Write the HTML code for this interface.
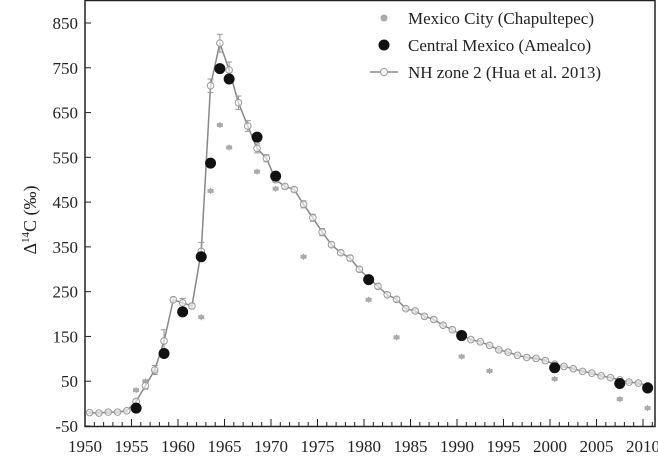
<!DOCTYPE html>
<html><head><meta charset="utf-8"><style>
body{margin:0;background:#fff}
svg{display:block;font-family:"Liberation Serif",serif}
</style></head><body>
<svg id="chart" width="658" height="457">
<g id="axes"></g><g id="marks"></g>
<g>
<circle cx="384" cy="18" r="3.5" fill="#aaa"/>
<text x="408" y="24" font-size="17" fill="#222">Mexico City (Chapultepec)</text>
<circle cx="384" cy="45" r="5.5" fill="#111"/>
<text x="408" y="51" font-size="17" fill="#222">Central Mexico (Amealco)</text>
<line x1="370" y1="72" x2="398" y2="72" stroke="#888" stroke-width="1.5"/>
<circle cx="384" cy="72" r="3.5" fill="#fff" stroke="#999"/>
<text x="408" y="78" font-size="17" fill="#222">NH zone 2 (Hua et al. 2013)</text>
</g>
<text transform="translate(36,220) rotate(-90)" text-anchor="middle" font-size="18" fill="#222">Δ<tspan font-size="11" dy="-7">14</tspan><tspan dy="7">C (‰)</tspan></text>
</svg>
<script>
const xTicks=[1950,1955,1960,1965,1970,1975,1980,1985,1990,1995,2000,2005,2010];
const yTicks=[-50,50,150,250,350,450,550,650,750,850];
const nhYears=[];for(let y=1950;y<=2010;y++)nhYears.push(y+0.5);
const nhValues=[-20,-21,-19,-19,-16,5,40,75,140,232,225,218,340,710,805,745,672,620,570,548,500,485,478,445,415,383,355,337,325,300,280,262,243,233,212,207,195,188,175,165,153,143,138,130,120,115,108,103,101,96,88,83,78,72,68,62,58,53,48,46,40];
const nhErrors=[3,3,3,3,3,5,8,10,25,5,10,5,20,15,20,18,15,12,10,8,6,5,5,8,8,8,5,5,6,5,5,5,5,5,4,4,4,4,4,4,4,3,3,3,3,3,3,3,3,3,3,3,3,3,3,3,3,3,3,3,3];
const cmYears=[1955.5,1958.5,1960.5,1962.5,1963.5,1964.5,1965.5,1968.5,1970.5,1980.5,1990.5,2000.5,2007.5,2010.5];
const cmValues=[-10,112,205,328,537,748,725,595,508,277,152,80,45,35];
const mcYears=[1955.5,1956.5,1957.5,1962.5,1963.5,1964.5,1965.5,1968.5,1970.5,1973.5,1980.5,1983.5,1990.5,1993.5,2000.5,2007.5,2010.5];
const mcValues=[30,50,72,193,475,622,572,518,480,328,232,148,105,73,55,10,-10];

const X=v=>85+(v-1950)*(643-85)/60;
const Y=v=>426-(v+50)*(426-23)/900;
const NS='http://www.w3.org/2000/svg';
function mk(t,a,p){const e=document.createElementNS(NS,t);for(const k in a)e.setAttribute(k,a[k]);p.appendChild(e);return e;}
const ax=document.getElementById('axes'),mg=document.getElementById('marks');
const frame=mk('rect',{x:85,y:0.5,width:570,height:426,fill:'none',stroke:'#222','stroke-width':1.5},ax);


for(let y=1950;y<=2011;y++){const t=mk('line',{x1:X(y),x2:X(y),y1:426,y2:y%5?422:419,stroke:'#222'},ax);

}
xTicks.forEach(v=>{const t=mk('text',{x:X(v),y:452,'text-anchor':'middle','font-size':17,fill:'#222'},ax);t.textContent=v;

});
yTicks.forEach(v=>{const l=mk('line',{x1:85,x2:91,y1:Y(v),y2:Y(v),stroke:'#222'},ax);


const t=mk('text',{x:78,y:Y(v)+6,'text-anchor':'end','font-size':17,fill:'#222'},ax);t.textContent=v;

});
mcYears.forEach((y,i)=>{const g=mk('g',{},mg);


mk('line',{x1:X(y),x2:X(y),y1:Y(mcValues[i])-3,y2:Y(mcValues[i])+3,stroke:'#999'},g);
mk('rect',{x:X(y)-3,y:Y(mcValues[i])-2,width:6,height:4,fill:'#aaa'},g);});
const pts=nhYears.map((y,i)=>X(y)+','+Y(nhValues[i])).join(' ');
const pl=mk('polyline',{points:pts,fill:'none',stroke:'#888','stroke-width':1.5},mg);


nhYears.forEach((y,i)=>{const g=mk('g',{},mg);


const a=Y(nhValues[i]+nhErrors[i]),b=Y(nhValues[i]-nhErrors[i]);
mk('path',{d:`M${X(y)},${a}V${b}M${X(y)-3},${a}h6M${X(y)-3},${b}h6`,stroke:'#999',fill:'none'},g);
mk('circle',{cx:X(y),cy:Y(nhValues[i]),r:3.3,fill:'#fff','fill-opacity':0.6,stroke:'#999'},g);});
cmYears.forEach((y,i)=>{const c=mk('circle',{cx:X(y),cy:Y(cmValues[i]),r:5.5,fill:'#111'},mg);

});
</script>
</body></html>
